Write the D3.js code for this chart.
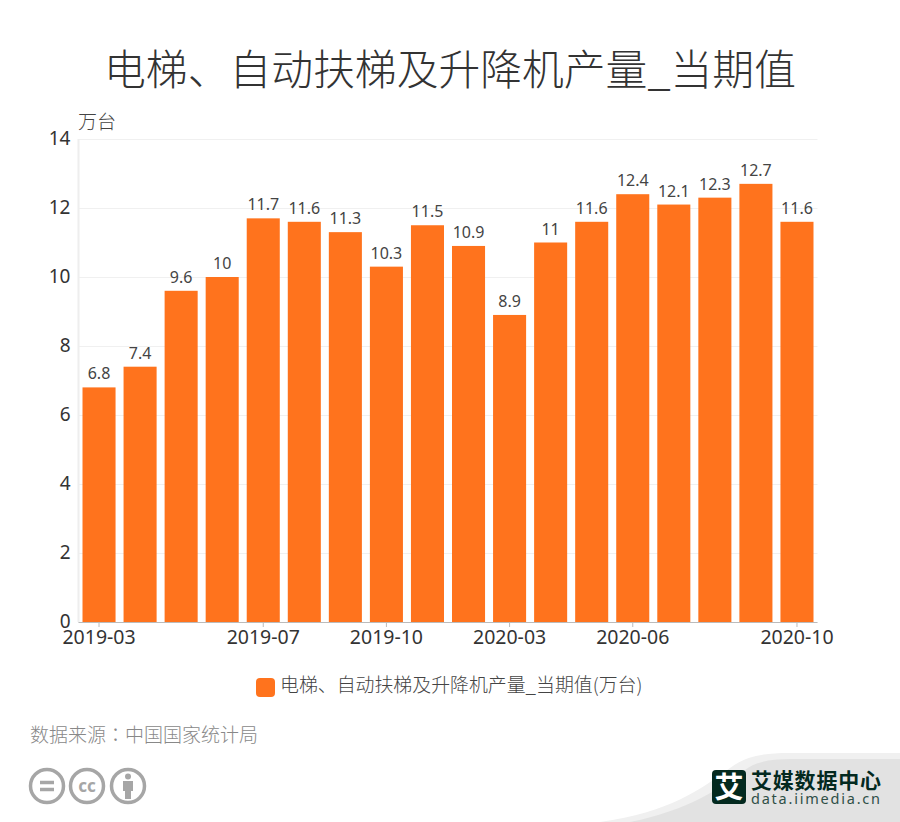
<!DOCTYPE html>
<html><head><meta charset="utf-8">
<script src="https://cdn.jsdelivr.net/npm/d3@7"></script>
<style>html,body{margin:0;padding:0;background:#fff}svg{display:block}text{font-family:"Noto Sans CJK SC","Noto Sans",sans-serif}</style>
</head><body><svg id="c" width="900" height="822"></svg>
<script>
const categories=["2019-03","2019-04","2019-05","2019-06","2019-07","2019-08","2019-09","2019-10","2019-11","2019-12","2020-03","2020-04","2020-05","2020-06","2020-07","2020-08","2020-09","2020-10"];
const values=[6.8,7.4,9.6,10,11.7,11.6,11.3,10.3,11.5,10.9,8.9,11,11.6,12.4,12.1,12.3,12.7,11.6];
const yTicks=[0,2,4,6,8,10,12,14];
const xTickLabels=["2019-03","2019-07","2019-10","2020-03","2020-06","2020-10"];
const titleText="电梯、自动扶梯及升降机产量_当期值";
const unitText="万台";
const legendText="电梯、自动扶梯及升降机产量_当期值(万台)";
const sourceHead="数据来源";
const sourceColon="：";
const sourceTail="中国国家统计局";
const brandName="艾媒数据中心";
const brandUrl="data.iimedia.cn";
const latin='"Noto Sans","Noto Sans CJK SC",sans-serif';

const svg=d3.select("#c");
const x=d3.scaleBand().domain(categories).range([78.5,817.5]).paddingInner(0.195).paddingOuter(0.0975);
const y=d3.scaleLinear().domain([0,14]).range([622,139]);

svg.append("path").attr("d","M600 822C670 812 700 790 730 768C745 757 760 753 790 753L900 753L900 822Z").attr("fill","#f0f0f0");
svg.append("path").attr("d","M630 822C690 810 720 788 745 770C755 762 770 759 790 759L900 759L900 822Z").attr("fill","#e2e2e2");

svg.append("text").attr("x",450).attr("y",85).attr("text-anchor","middle").attr("font-size",41.8).attr("font-weight",300).attr("fill","#333").text(titleText);
svg.append("text").attr("x",78).attr("y",129).attr("font-size",19).attr("font-weight",300).attr("fill","#444").text(unitText);

const gy=svg.append("g").attr("transform","translate(78.5,0)").call(d3.axisLeft(y).tickValues(yTicks).tickSize(-739).tickPadding(8));
gy.select(".domain").remove();
gy.selectAll("line").attr("stroke","#f0f0f0");
gy.selectAll("text").attr("font-size",19).attr("fill","#333").style("font-family",latin).attr("dy","0.3em");
svg.append("line").attr("x1",78.5).attr("x2",78.5).attr("y1",139).attr("y2",622).attr("stroke","#eee").attr("stroke-width",2);

svg.append("g").selectAll("rect").data(values).join("rect")
 .attr("x",(d,i)=>x(categories[i])).attr("width",x.bandwidth())
 .attr("y",d=>y(d)).attr("height",d=>y(0)-y(d)).attr("fill","#ff731d");
svg.append("g").selectAll("text").data(values).join("text")
 .attr("x",(d,i)=>x(categories[i])+x.bandwidth()/2).attr("y",d=>y(d)-8)
 .attr("text-anchor","middle").attr("font-size",16).attr("fill","#444").style("font-family",latin).text(d=>d);

const gx=svg.append("g").attr("transform","translate(0,622)").call(d3.axisBottom(x).tickValues(xTickLabels).tickSize(5).tickPadding(3));
gx.select(".domain").attr("stroke","#bbb").attr("d","M78.5,0.5H817.5");
gx.selectAll("line").attr("stroke","#bbb");
gx.selectAll("text").attr("font-size",19.5).attr("fill","#333").style("font-family",latin);

svg.append("rect").attr("x",256).attr("y",678).attr("width",19).attr("height",19).attr("rx",4).attr("fill","#ff731d");
svg.append("text").attr("x",280).attr("y",692).attr("font-size",18.9).attr("font-weight",300).attr("fill","#444").text(legendText);

const src=svg.append("text").attr("x",30).attr("y",742).attr("font-size",19).attr("font-weight",300).attr("fill","#888");
src.append("tspan").text(sourceHead);
src.append("tspan").style("font-family",'"Noto Sans CJK TC"').text(sourceColon);
src.append("tspan").text(sourceTail);

const ic=svg.append("g").attr("fill","none").attr("stroke","#a6a6a6").attr("stroke-width",3.5);
[47,87,128].forEach(cx=>ic.append("circle").attr("cx",cx).attr("cy",786).attr("r",16.5));
ic.append("path").attr("d","M40 782.5H54M40 789.5H54");
svg.append("text").attr("x",87).attr("y",792).attr("text-anchor","middle").attr("font-size",17).attr("font-weight",700).attr("fill","#a6a6a6").style("font-family",latin).text("cc");
svg.append("circle").attr("cx",128).attr("cy",776.5).attr("r",3).attr("fill","#a6a6a6");
svg.append("path").attr("d","M123 781H133V791H131V799H125V791H123Z").attr("fill","#a6a6a6");

svg.append("rect").attr("x",712).attr("y",770).attr("width",34).attr("height",34).attr("rx",4).attr("fill","#03291f");
svg.append("text").attr("x",729).attr("y",798).attr("text-anchor","middle").attr("font-size",29).attr("font-weight",700).attr("fill","#fff").text("艾");
svg.append("text").attr("x",751).attr("y",788).attr("font-size",21).attr("font-weight",700).attr("fill","#03291f").attr("textLength",130).text(brandName);
svg.append("text").attr("x",751).attr("y",804).attr("font-size",14.5).attr("fill","#2f4f47").attr("textLength",129).style("font-family",latin).text(brandUrl);
</script></body></html>
